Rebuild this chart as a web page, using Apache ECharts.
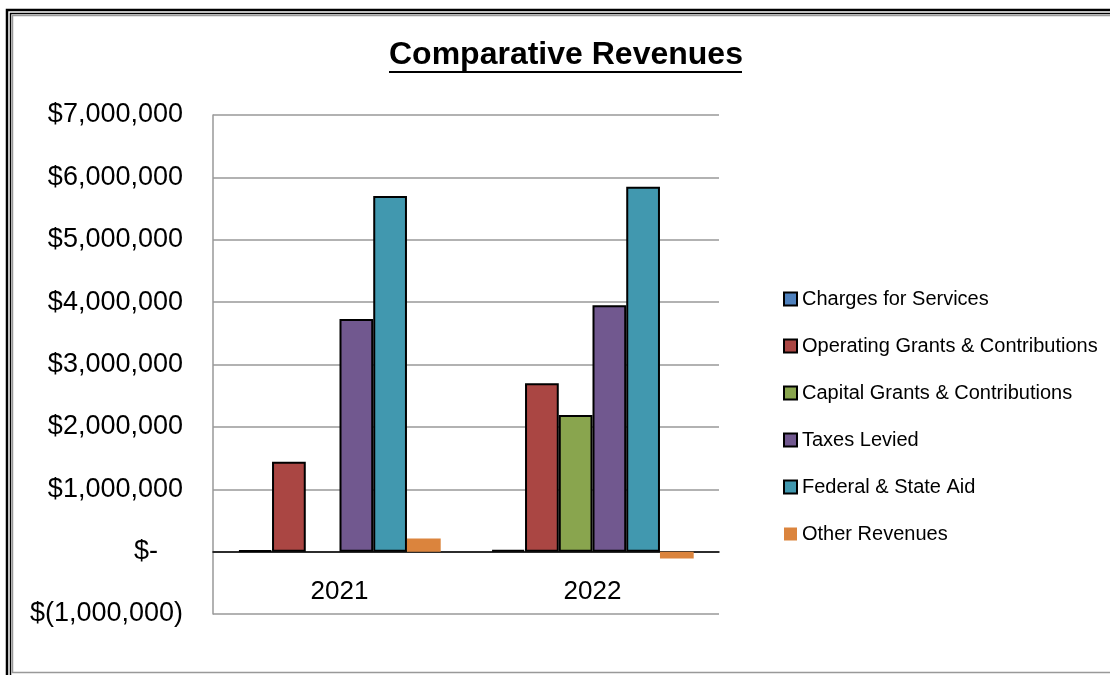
<!DOCTYPE html>
<html>
<head>
<meta charset="utf-8">
<script src="https://cdn.jsdelivr.net/npm/echarts@6/dist/echarts.min.js"></script>
<style>
html,body{margin:0;padding:0;background:#fff;}
#c{width:1110px;height:675px;}
</style>
</head>
<body>
<div id="c"></div>
<script>
const categories = ['2021', '2022'];
const seriesNames = ['Charges for Services', 'Operating Grants & Contributions', 'Capital Grants & Contributions', 'Taxes Levied', 'Federal & State Aid', 'Other Revenues'];
const chargesForServices = [20000, 25000];
const operatingGrants = [1440000, 2700000];
const capitalGrants = [null, 2190000];
const taxesLevied = [3730000, 3950000];
const federalStateAid = [5700000, 5850000];
const otherRevenues = [210000, -110000];
const colors = ['#4F81BD', '#AA4643', '#89A54E', '#71588F', '#4198AF', '#DB843D'];

const values = [chargesForServices, operatingGrants, capitalGrants, taxesLevied, federalStateAid, otherRevenues];

function fmt(v) {
  if (v === 0) return '{z|$-}';
  const s = Math.abs(v).toString().replace(/\B(?=(\d{3})+(?!\d))/g, ',');
  return v < 0 ? '$(' + s + ')' : '$' + s;
}

const chart = echarts.init(document.getElementById('c'));
chart.setOption({
  animation: false,
  backgroundColor: '#fff',
  title: {
    text: 'Comparative Revenues',
    left: 389, top: 39, padding: 0,
    textStyle: { fontFamily: 'Liberation Sans', fontWeight: 'bold', fontSize: 32, color: '#000' }
  },
  graphic: [
    { type: 'rect', shape: { x: 7, y: 10, width: 1120, height: 680 }, style: { fill: 'none', stroke: '#000', lineWidth: 2.5 }, silent: true },
    { type: 'rect', shape: { x: 10.5, y: 13.5, width: 1120, height: 670 }, style: { fill: 'none', stroke: '#000', lineWidth: 1.5 }, silent: true },
    { type: 'rect', shape: { x: 12.5, y: 15.5, width: 1120, height: 657 }, style: { fill: 'none', stroke: '#999', lineWidth: 1.5 }, silent: true },
    { type: 'line', shape: { x1: 389, y1: 72, x2: 742, y2: 72 }, style: { stroke: '#000', lineWidth: 2 }, silent: true }
  ],
  legend: {
    orient: 'vertical',
    left: 783, top: 289, padding: 0,
    icon: 'rect',
    itemWidth: 13, itemHeight: 13, itemGap: 27,
    textStyle: { fontFamily: 'Liberation Sans', fontSize: 20, color: '#000', lineHeight: 20 },
    data: seriesNames
  },
  grid: { left: 213, right: 391, top: 115, bottom: 61 },
  xAxis: {
    type: 'category',
    data: categories,
    axisTick: { show: false },
    axisLine: { onZero: true, lineStyle: { color: '#000', width: 1.5 } },
    axisLabel: { fontFamily: 'Liberation Sans', fontSize: 26, color: '#000', margin: -35 }
  },
  yAxis: {
    type: 'value',
    min: -1000000, max: 7000000, interval: 1000000,
    axisLine: { show: true, lineStyle: { color: '#999', width: 1.5 } },
    axisTick: { show: false },
    splitLine: { lineStyle: { color: '#999', width: 1.5 } },
    axisLabel: {
      fontFamily: 'Liberation Sans', fontSize: 27, color: '#000', margin: 30,
      formatter: fmt,
      rich: { z: { fontFamily: 'Liberation Sans', fontSize: 27, color: '#000', padding: [0, 25, 0, 0] } }
    }
  },
  series: seriesNames.map((name, i) => ({
    name: name,
    type: 'bar',
    data: values[i],
    barGap: '0%',
    barCategoryGap: '20%',
    itemStyle: i === 5
      ? { color: colors[i] }
      : { color: colors[i], borderColor: '#000', borderWidth: 2 }
  }))
});
</script>
</body>
</html>
